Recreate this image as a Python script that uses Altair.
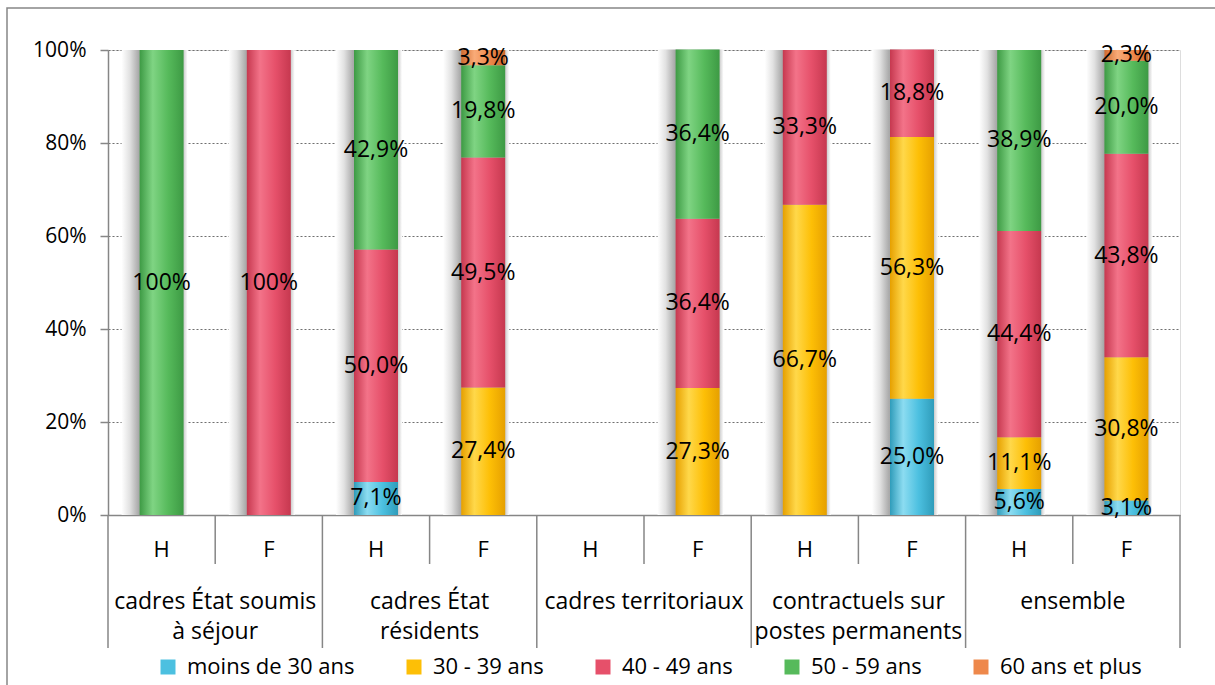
import altair as alt
import pandas as pd

# Categories: five staff groups, each split by sex (H = hommes, F = femmes)
groups = [
    "cadres État soumis à séjour",
    "cadres État résidents",
    "cadres territoriaux",
    "contractuels sur postes permanents",
    "ensemble",
]
group_text = [
    "cadres État soumis\nà séjour",
    "cadres État\nrésidents",
    "cadres territoriaux",
    "contractuels sur\npostes permanents",
    "ensemble",
]
sexes = ["H", "F"]

# Age bands, stacked from bottom to top
series = ["moins de 30 ans", "30 - 39 ans", "40 - 49 ans", "50 - 59 ans", "60 ans et plus"]

# Shares (%) per category, in order: group1 H, group1 F, group2 H, ...
moins_30 = [0, 0, 7.1, 0, 0, 0, 0, 25.0, 5.6, 3.1]
ans_30_39 = [0, 0, 0, 27.4, 0, 27.3, 66.7, 56.3, 11.1, 30.8]
ans_40_49 = [0, 100, 50.0, 49.5, 0, 36.4, 33.3, 18.8, 44.4, 43.8]
ans_50_59 = [100, 0, 42.9, 19.8, 0, 36.4, 0, 0, 38.9, 20.0]
ans_60_plus = [0, 0, 0, 3.3, 0, 0, 0, 0, 0, 2.3]
values = [moins_30, ans_30_39, ans_40_49, ans_50_59, ans_60_plus]

# (edge shade, highlight, base) for each age band
palette = {
    "moins de 30 ans": ("#2f9cba", "#8cdcf1", "#4cc0e0"),
    "30 - 39 ans": ("#e6a000", "#ffd84a", "#fdbf06"),
    "40 - 49 ans": ("#c6384f", "#f37389", "#e6506a"),
    "50 - 59 ans": ("#3d9a44", "#7fd483", "#56ba5b"),
    "60 ans et plus": ("#cf6a2e", "#f9ab78", "#ee884b"),
}

FONT = "Open Sans"
GREY = "#868686"
W, H = 1072, 465


def pct(v):
    if v == 100:
        return "100%"
    return f"{v:.1f}".replace(".", ",") + "%"


categories = [f"{g}|{s}" for g in groups for s in sexes]

rows = []
for i, cat in enumerate(categories):
    base = 0.0
    for s, vals in zip(series, values):
        v = vals[i]
        if v > 0:
            rows.append(dict(cat=cat, serie=s, value=v, y0=base, y1=base + v,
                             ymid=base + v / 2, label=pct(v)))
        base += v
df = pd.DataFrame(rows)

totals = pd.DataFrame({
    "cat": categories,
    "total": [sum(vals[i] for vals in values) for i in range(len(categories))],
})
totals = totals[totals["total"] > 0]

x_scale = alt.Scale(domain=categories, paddingInner=0, paddingOuter=0)
x_axis = alt.Axis(
    title=None, labelExpr="split(datum.value, '|')[1]", labelAngle=0,
    ticks=False, grid=False, domainColor=GREY, domainWidth=1.5,
    labelFont=FONT, labelFontSize=22, labelColor="black", labelPadding=24,
)
y_scale = alt.Scale(domain=[0, 100], nice=False)
y_axis = alt.Axis(
    title=None, values=[0, 20, 40, 60, 80, 100], labelExpr="datum.value + '%'",
    domainColor=GREY, domainWidth=1.5, tickColor=GREY, tickSize=8, tickWidth=1.5,
    gridColor="#6f6f6f", gridDash=[2, 2], gridWidth=1.2,
    labelFont=FONT, labelFontSize=21, labelColor="black", labelPadding=14,
)


def X(**kw):
    return alt.X("cat:N", scale=x_scale, axis=x_axis, **kw)


def bar_fill(edge, light, base):
    return alt.Gradient(
        gradient="linear", x1=0, x2=1, y1=0, y2=0,
        stops=[
            alt.GradientStop(color=edge, offset=0),
            alt.GradientStop(color=light, offset=0.3),
            alt.GradientStop(color=base, offset=0.65),
            alt.GradientStop(color=edge, offset=1),
        ],
    )


# Soft drop shadow behind each stacked bar
shadow = alt.Chart(totals).mark_bar(
    width=66, xOffset=-7,
    fill=alt.Gradient(
        gradient="linear", x1=0, x2=1, y1=0, y2=0,
        stops=[
            alt.GradientStop(color="#ffffff", offset=0),
            alt.GradientStop(color="#e2e2e2", offset=0.12),
            alt.GradientStop(color="#a9a9a9", offset=0.26),
            alt.GradientStop(color="#c4c4c4", offset=0.93),
            alt.GradientStop(color="#ffffff", offset=1),
        ],
    ),
).encode(
    x=X(),
    y=alt.Y("total:Q", scale=y_scale, axis=y_axis),
    y2=alt.datum(0),
)

bar_layers = []
for s in series:
    edge, light, base = palette[s]
    bar_layers.append(
        alt.Chart(df).transform_filter(alt.datum.serie == s)
        .mark_bar(width=44, fill=bar_fill(edge, light, base))
        .encode(
            x=X(),
            y=alt.Y("y0:Q", scale=y_scale, axis=y_axis),
            y2="y1:Q",
            tooltip=["serie:N", "label:N"],
        )
    )

labels = alt.Chart(df).mark_text(
    font=FONT, fontSize=23, color="black", baseline="middle", align="center"
).encode(
    x=X(),
    y=alt.Y("ymid:Q", scale=y_scale, axis=y_axis),
    text="label:N",
)

# Separators of the two-level category axis
sep_df = pd.DataFrame({"cat": categories, "sexe": sexes * len(groups)})
short_sep = alt.Chart(sep_df).transform_filter(alt.datum.sexe == "F").mark_rule(
    color=GREY, strokeWidth=1.5
).encode(x=X(bandPosition=0), y=alt.value(H), y2=alt.value(H + 49))
long_sep = alt.Chart(sep_df).transform_filter(alt.datum.sexe == "H").mark_rule(
    color=GREY, strokeWidth=1.5
).encode(x=X(bandPosition=0), y=alt.value(H), y2=alt.value(H + 133))
end_sep = alt.Chart(sep_df.tail(1)).mark_rule(
    color=GREY, strokeWidth=1.5
).encode(x=X(bandPosition=1), y=alt.value(H), y2=alt.value(H + 133))

group_df = pd.DataFrame({"cat": [f"{g}|H" for g in groups], "text": group_text})
group_labels = alt.Chart(group_df).mark_text(
    font=FONT, fontSize=23, color="black", align="center", baseline="top",
    lineBreak="\n", lineHeight=30,
).encode(x=X(bandPosition=1), y=alt.value(H + 76), text="text:N")

# Legend carrier (invisible marks, visible legend)
legend_layer = alt.Chart(pd.DataFrame({"serie": series})).mark_square(opacity=0).encode(
    color=alt.Color(
        "serie:N",
        scale=alt.Scale(domain=series, range=[palette[s][2] for s in series]),
        legend=alt.Legend(
            orient="none", legendX=49, legendY=606, direction="horizontal",
            title=None, symbolType="square", symbolSize=225, symbolOpacity=1,
            symbolStrokeWidth=0, labelFont=FONT, labelFontSize=22,
            labelColor="black", labelOffset=8, columnPadding=48, labelLimit=0,
        ),
    )
)

frame = alt.Chart(pd.DataFrame({"k": [0]})).mark_rect(
    fill=None, stroke=GREY, strokeWidth=1.5
).encode(
    x=alt.value(-101), x2=alt.value(W + 60),
    y=alt.value(-42), y2=alt.value(H + 200),
)

chart = alt.layer(
    frame, shadow, *bar_layers, labels, short_sep, long_sep, end_sep,
    group_labels, legend_layer,
).properties(
    width=W, height=H,
    autosize=alt.AutoSizeParams(type="none"),
    padding={"left": 108, "top": 50, "right": 35, "bottom": 170},
).configure_view(stroke=None).configure(background="white")

chart.save("out.html", embed_options={"renderer": "svg", "actions": False})
